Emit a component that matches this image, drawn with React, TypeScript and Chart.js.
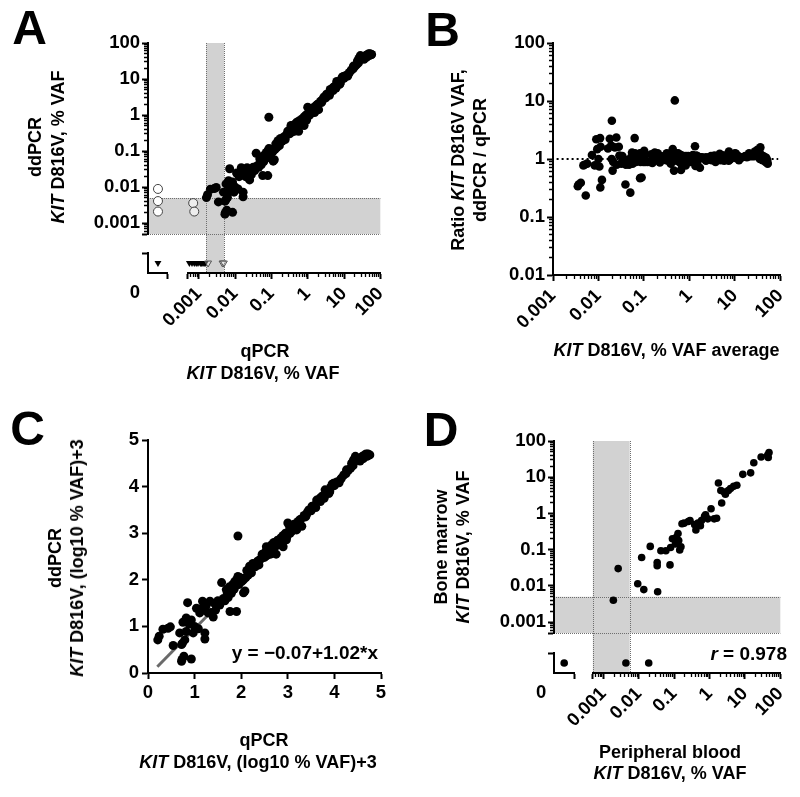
import React, { useEffect, useRef } from 'react';
import { Chart, registerables } from 'chart.js';
Chart.register(...registerables);

const FONT = '"Liberation Sans", Arial, Helvetica, sans-serif';
const TICK_FONT: any = { family: FONT, size: 18.5, weight: 'bold' };
const AXIS_W = 70;
const AXIS_H = 100;
const BAND_FILL = '#d2d2d2';
const BAND_EDGE = '#6f6f6f';

// qPCR / ddPCR KIT D816V pairs, read in panel C units: (log10 % VAF)+3
const qpcrLog3 = [
  0.21, 0.24, 0.32, 0.43, 0.48, 0.54, 0.68, 0.72, 0.74, 0.73, 0.77, 0.72, 0.93, 0.85, 0.79, 0.82, 0.75, 0.82, 0.88, 0.93,
  0.97, 1.0, 1.04, 1.08, 1.11, 1.15, 1.22, 1.22, 1.17, 1.25, 1.29, 1.35, 1.4, 1.33, 1.43, 1.45, 1.5, 1.54, 1.55, 1.61,
  1.58, 1.62, 1.65, 1.68, 1.7, 1.72, 1.75, 1.76, 1.79, 1.8, 1.82, 1.85, 1.86, 1.88, 1.9, 1.9, 1.93, 1.93, 1.95, 1.97,
  2.0, 2.01, 2.05, 2.05, 2.08, 2.1, 2.12, 2.15, 2.18, 2.2, 2.22, 2.25, 2.26, 2.3, 2.35, 2.38, 2.4, 2.42, 2.45, 2.47,
  2.5, 2.52, 2.54, 2.55, 2.58, 2.6, 2.61, 2.63, 2.65, 2.68, 2.69, 2.7, 2.72, 2.75, 2.78, 2.79, 2.8, 2.82, 2.85, 2.88,
  2.9, 2.9, 2.92, 2.95, 2.97, 2.98, 3.0, 3.04, 3.05, 3.08, 3.1, 3.12, 3.15, 3.19, 3.2, 3.22, 3.26, 3.28, 3.3, 3.35,
  3.38, 3.4, 3.42, 3.45, 3.5, 3.52, 3.55, 3.58, 3.6, 3.62, 3.65, 3.69, 3.7, 3.72, 3.75, 3.78, 3.8, 3.82, 3.85, 3.88,
  3.9, 3.92, 3.95, 3.98, 4.0, 4.05, 4.1, 4.12, 4.15, 4.2, 4.25, 4.26, 4.3, 4.35, 4.37, 4.4, 4.41, 4.45, 4.5, 4.55,
  4.55, 4.6, 4.62, 4.65, 4.68, 4.69, 4.7, 4.72, 4.75, 4.76,
];
const ddpcrLog3 = [
  0.71, 0.79, 0.94, 0.96, 0.99, 0.59, 0.86, 0.61, 0.64, 0.29, 0.36, 0.25, 0.3, 1.51, 0.71, 0.89, 1.09, 1.18, 1.05, 1.14,
  0.86, 1.0, 1.39, 0.95, 1.29, 1.38, 0.86, 0.73, 1.54, 1.45, 1.29, 1.3, 1.2, 1.54, 1.49, 1.35, 1.55, 1.46, 1.5, 1.57,
  1.94, 1.6, 1.55, 1.79, 1.72, 1.62, 1.85, 1.32, 1.71, 1.78, 1.9, 1.8, 1.96, 1.87, 1.32, 2.0, 2.07, 2.94, 1.9, 2.05,
  2.02, 1.96, 2.0, 1.72, 1.76, 2.05, 2.2, 2.1, 2.29, 2.25, 2.15, 2.35, 2.32, 2.28, 2.4, 2.32, 2.43, 2.45, 2.55, 2.5,
  2.48, 2.6, 2.71, 2.52, 2.7, 2.62, 2.64, 2.55, 2.75, 2.65, 2.71, 2.8, 2.7, 2.55, 2.85, 2.79, 2.75, 2.8, 2.9, 2.78,
  2.95, 2.71, 2.85, 3.0, 2.86, 2.92, 3.22, 3.11, 3.0, 3.12, 3.05, 3.18, 3.2, 3.07, 3.15, 3.25, 3.29, 3.3, 3.15, 3.38,
  3.35, 3.39, 3.45, 3.5, 3.48, 3.58, 3.57, 3.6, 3.55, 3.71, 3.7, 3.75, 3.68, 3.78, 3.8, 3.75, 3.93, 3.88, 3.92, 3.85,
  3.89, 3.98, 4.05, 4.07, 4.02, 4.1, 4.08, 4.14, 4.18, 4.25, 4.28, 4.36, 4.35, 4.4, 4.5, 4.45, 4.57, 4.65, 4.6, 4.55,
  4.61, 4.65, 4.6, 4.68, 4.7, 4.68, 4.65, 4.7, 4.68, 4.68,
];
// Panel B only shows pairs whose qPCR value is at or above this (% VAF)
const qpcrLodForRatio = 0.005;

// Panel A: samples negative in one method (% VAF)
const aQpcrZeroDd = [0.0089, 0.0041, 0.0021]; // ddPCR value where qPCR = 0 (open circles)
const aLowQ = [0.0007, 0.00075]; // qPCR below LoD (open circles)
const aLowQDd = [0.0036, 0.0021];
const aDdZeroQ = [0.00055, 0.00065, 0.00075, 0.00085, 0.00095, 0.0011, 0.0012, 0.0013, 0.0014, 0.0015]; // ddPCR = 0 (filled ▼)
const aDdZeroQOpen = [0.0018, 0.0045, 0.0049]; // ddPCR = 0 (open ▽)
const aBandX = [0.0016, 0.005];
const aBandY = [0.0005, 0.005];

// Panel C regression
const regIntercept = -0.07;
const regSlope = 1.02;
const regRange = [0.2, 4.75];

// Panel B reference line
const bRefRange = [0.0012, 90];

// Panel D: peripheral blood vs bone marrow (% VAF)
const pbVaf = [
  0.0019, 0.0026, 0.0093, 0.012, 0.0138, 0.021, 0.033, 0.033, 0.034, 0.042, 0.058, 0.076, 0.079, 0.089, 0.108, 0.115,
  0.134, 0.128, 0.143, 0.155, 0.166, 0.19, 0.25, 0.28, 0.38, 0.41, 0.47, 0.55, 0.59, 0.72, 0.77, 0.89, 1.1, 1.35, 1.58,
  1.78, 2.08, 2.2, 2.6, 2.8, 3.4, 3.9, 4.8, 5.9, 8.7, 14.5, 17.8, 28.7, 44, 48, 45.6,
];
const bmVaf = [
  0.004, 0.03, 0.0115, 0.061, 0.0079, 0.123, 0.036, 0.044, 0.0069, 0.093, 0.093, 0.038, 0.115, 0.2, 0.144, 0.22,
  0.178, 0.28, 0.098, 0.12, 0.52, 0.54, 0.6, 0.64, 0.49, 0.35, 0.54, 0.46, 0.64, 0.83, 0.92, 0.71, 1.35, 0.71, 0.74,
  6.9, 4.3, 1.94, 3.9, 3.4, 4.3, 4.9, 5.6, 6.0, 12, 13.2, 25, 36, 41, 48, 35,
];
const dBmZeroPb = [0.0043, 0.019]; // bone marrow = 0
const dBandX = [0.0005, 0.0055];
const dBandY = [0.0005, 0.005];

function fmtLog(v: number) {
  const lg = Math.log10(v);
  if (Math.abs(lg - Math.round(lg)) > 1e-6) return '';
  if (v < 0.00099) return '';
  return String(Number(v.toPrecision(3)));
}

function logTickList(min: number, max: number) {
  const out: any[] = [{ value: min, major: true }];
  for (let e = -4; e <= 2; e++) {
    for (let m = 1; m <= 9; m++) {
      const v = Number((m * Math.pow(10, e)).toPrecision(3));
      if (v > min * 1.001 && v <= max * 1.001) out.push({ value: v, major: m === 1 });
    }
  }
  return out;
}

function logAxis(dir: 'x' | 'y', min: number, max: number, extra: any = {}) {
  const isX = dir === 'x';
  return {
    type: 'logarithmic',
    position: isX ? 'bottom' : 'left',
    ...extra,
    min,
    max,
    border: { display: true, color: '#000', width: 2 },
    grid: {
      display: true,
      drawOnChartArea: false,
      drawTicks: true,
      tickLength: 6,
      tickColor: '#000',
      tickWidth: (c: any) => (c.tick && c.tick.major ? 2 : 1.3),
      tickBorderDash: (c: any) => (c.tick && c.tick.major ? [] : isX ? [3, 20] : [0, 2, 3, 20]),
    },
    ticks: {
      autoSkip: false,
      minRotation: isX ? 45 : 0,
      maxRotation: isX ? 45 : 0,
      padding: isX ? 4 : 2,
      color: '#000',
      font: TICK_FONT,
      callback: (v: any) => fmtLog(Number(v)),
    },
    afterBuildTicks: (s: any) => {
      s.ticks = logTickList(min, max);
    },
    afterFit: (s: any) => {
      if (isX) s.height = AXIS_H;
      else s.width = AXIS_W;
    },
  };
}

function zeroAxis(dir: 'x' | 'y', stackWeight: number, weight: number) {
  const isX = dir === 'x';
  return {
    type: 'linear',
    position: isX ? 'bottom' : 'left',
    stack: 's' + dir,
    stackWeight,
    weight,
    min: -1,
    max: 1,
    border: { display: true, color: '#000', width: 2 },
    grid: {
      display: true,
      drawOnChartArea: false,
      tickLength: 6,
      tickWidth: 2,
      tickColor: (c: any) => (c.tick && c.tick.value === 1 ? '#000' : 'rgba(0,0,0,0)'),
    },
    ticks: {
      autoSkip: false,
      minRotation: 0,
      maxRotation: 0,
      padding: 3,
      labelOffset: isX ? -23 : 0,
      color: '#000',
      font: TICK_FONT,
      callback: (v: any) => (isX && Number(v) === 0 ? '0' : ''),
    },
    afterBuildTicks: (s: any) => {
      s.ticks = isX ? [{ value: 0 }, { value: 1 }] : [{ value: 1 }];
    },
    afterFit: (s: any) => {
      if (isX) s.height = AXIS_H;
      else s.width = AXIS_W;
    },
  };
}

function gapAxis(dir: 'x' | 'y', stackWeight: number, weight: number) {
  const isX = dir === 'x';
  return {
    type: 'linear',
    position: isX ? 'bottom' : 'left',
    stack: 's' + dir,
    stackWeight,
    weight,
    display: true,
    border: { display: false },
    grid: { display: false },
    ticks: { display: false },
    afterFit: (s: any) => {
      if (isX) s.height = AXIS_H;
      else s.width = AXIS_W;
    },
  };
}

function linAxis(dir: 'x' | 'y') {
  const isX = dir === 'x';
  return {
    type: 'linear',
    position: isX ? 'bottom' : 'left',
    min: 0,
    max: 5,
    border: { display: true, color: '#000', width: 2 },
    grid: { display: true, drawOnChartArea: false, tickLength: 6, tickWidth: 2, tickColor: '#000' },
    ticks: { stepSize: 1, padding: 3, minRotation: 0, maxRotation: 0, color: '#000', font: TICK_FONT },
    afterFit: (s: any) => {
      if (isX) s.height = AXIS_H;
      else s.width = AXIS_W;
    },
  };
}

function bandsPlugin(bx: number[], by: number[]) {
  return {
    id: 'bands',
    beforeDraw(chart: any) {
      const { ctx, chartArea: ca, scales } = chart;
      const x0 = scales.x.getPixelForValue(bx[0]);
      const x1 = scales.x.getPixelForValue(bx[1]);
      const y0 = scales.y.getPixelForValue(by[1]);
      const y1 = scales.y.getPixelForValue(by[0]);
      ctx.save();
      ctx.fillStyle = BAND_FILL;
      ctx.fillRect(x0, ca.top, x1 - x0, ca.bottom - ca.top);
      ctx.fillRect(ca.left, y0, ca.right - ca.left, y1 - y0);
      ctx.strokeStyle = BAND_EDGE;
      ctx.lineWidth = 1;
      ctx.setLineDash([1, 1]);
      ctx.beginPath();
      ctx.moveTo(Math.round(x0) + 0.5, ca.top);
      ctx.lineTo(Math.round(x0) + 0.5, ca.bottom);
      ctx.moveTo(Math.round(x1) + 0.5, ca.top);
      ctx.lineTo(Math.round(x1) + 0.5, ca.bottom);
      ctx.moveTo(ca.left, Math.round(y0) + 0.5);
      ctx.lineTo(ca.right, Math.round(y0) + 0.5);
      ctx.moveTo(ca.left, Math.round(y1) + 0.5);
      ctx.lineTo(ca.right, Math.round(y1) + 0.5);
      ctx.stroke();
      ctx.restore();
    },
  };
}

const baseOptions = (padding: any, scales: any) => ({
  responsive: false,
  maintainAspectRatio: false,
  animation: false,
  devicePixelRatio: 1,
  layout: { padding },
  plugins: { legend: { display: false }, tooltip: { enabled: false }, title: { display: false } },
  events: [],
  scales,
});

const dot = (r: number) => ({
  pointRadius: r,
  pointBackgroundColor: '#000',
  pointBorderColor: '#000',
  pointBorderWidth: 0,
  pointStyle: 'circle',
  clip: false,
});

function configA(): any {
  const main = qpcrLog3.map((q, i) => ({ x: Math.pow(10, q - 3), y: Math.pow(10, ddpcrLog3[i] - 3) }));
  return {
    type: 'scatter',
    data: {
      datasets: [
        { data: main, xAxisID: 'x', yAxisID: 'y', ...dot(4.5) },
        {
          data: aQpcrZeroDd.map((v) => ({ x: 0, y: v })),
          xAxisID: 'xz',
          yAxisID: 'y',
          pointRadius: 4.5,
          pointBackgroundColor: '#fff',
          pointBorderColor: '#444',
          pointBorderWidth: 1,
          clip: false,
        },
        {
          data: aLowQ.map((v, i) => ({ x: v, y: aLowQDd[i] })),
          xAxisID: 'x',
          yAxisID: 'y',
          pointRadius: 4.5,
          pointBackgroundColor: 'rgba(255,255,255,0.6)',
          pointBorderColor: '#444',
          pointBorderWidth: 1,
          clip: false,
        },
        {
          data: aDdZeroQOpen.map((v) => ({ x: v, y: 0 })),
          xAxisID: 'x',
          yAxisID: 'yz',
          pointStyle: 'triangle',
          pointRotation: 180,
          pointRadius: 4,
          pointBackgroundColor: 'rgba(255,255,255,0.3)',
          pointBorderColor: '#555',
          pointBorderWidth: 1,
          clip: false,
        },
        {
          data: aDdZeroQ.map((v) => ({ x: v, y: 0 })),
          xAxisID: 'x',
          yAxisID: 'yz',
          pointStyle: 'triangle',
          pointRotation: 180,
          pointRadius: 4,
          pointBackgroundColor: '#000',
          pointBorderColor: '#000',
          pointBorderWidth: 0,
          clip: false,
        },
        {
          data: [{ x: 0, y: 0 }],
          xAxisID: 'xz',
          yAxisID: 'yz',
          pointStyle: 'triangle',
          pointRotation: 180,
          pointRadius: 4,
          pointBackgroundColor: '#000',
          pointBorderWidth: 0,
          clip: false,
        },
      ],
    },
    options: baseOptions(
      { left: 148 - AXIS_W, top: 43, right: 400 - 381, bottom: 400 - 273 - AXIS_H },
      {
        x: logAxis('x', 0.0005, 100, { stack: 'sx', stackWeight: 193, weight: 3 }),
        xgap: gapAxis('x', 20, 2),
        xz: zeroAxis('x', 20, 1),
        y: logAxis('y', 0.0005, 100, { stack: 'sy', stackWeight: 191, weight: 3 }),
        ygap: gapAxis('y', 19, 2),
        yz: zeroAxis('y', 20, 1),
      }
    ),
    plugins: [bandsPlugin(aBandX, aBandY)],
  };
}

function configB(): any {
  const pts: any[] = [];
  qpcrLog3.forEach((q, i) => {
    const qv = Math.pow(10, q - 3);
    const dv = Math.pow(10, ddpcrLog3[i] - 3);
    if (qv >= qpcrLodForRatio) pts.push({ x: (qv + dv) / 2, y: dv / qv });
  });
  return {
    type: 'scatter',
    data: {
      datasets: [
        { data: pts, xAxisID: 'x', yAxisID: 'y', ...dot(4.3) },
        {
          type: 'line',
          data: bRefRange.map((x) => ({ x, y: 1 })),
          borderColor: '#000',
          borderWidth: 2,
          borderDash: [2, 3],
          pointRadius: 0,
          fill: false,
          clip: false,
        },
      ],
    },
    options: baseOptions(
      { left: 553 - 400 - AXIS_W, top: 43, right: 800 - 786, bottom: 400 - 275 - AXIS_H },
      { x: logAxis('x', 0.001, 100), y: logAxis('y', 0.01, 100) }
    ),
  };
}

function configC(): any {
  const pts = qpcrLog3.map((q, i) => ({ x: q, y: ddpcrLog3[i] }));
  return {
    type: 'scatter',
    data: {
      datasets: [
        { data: pts, ...dot(4.5) },
        {
          type: 'line',
          data: regRange.map((x) => ({ x, y: regIntercept + regSlope * x })),
          borderColor: '#6a6a6a',
          borderWidth: 3,
          pointRadius: 0,
          fill: false,
          clip: false,
        },
      ],
    },
    options: baseOptions(
      { left: 148 - AXIS_W, top: 40, right: 400 - 381, bottom: 397 - 273 - AXIS_H },
      { x: linAxis('x'), y: linAxis('y') }
    ),
  };
}

function configD(): any {
  const pts = pbVaf.map((p, i) => ({ x: p, y: bmVaf[i] }));
  return {
    type: 'scatter',
    data: {
      datasets: [
        { data: pts, xAxisID: 'x', yAxisID: 'y', ...dot(3.8) },
        { data: dBmZeroPb.map((v) => ({ x: v, y: 0 })), xAxisID: 'x', yAxisID: 'yz', ...dot(3.8) },
        { data: [{ x: 0, y: 0 }], xAxisID: 'xz', yAxisID: 'yz', ...dot(3.8) },
      ],
    },
    options: baseOptions(
      { left: 554 - 400 - AXIS_W, top: 41, right: 800 - 787, bottom: 397 - 273 - AXIS_H },
      {
        x: logAxis('x', 0.0005, 100, { stack: 'sx', stackWeight: 193, weight: 3 }),
        xgap: gapAxis('x', 19, 2),
        xz: zeroAxis('x', 21, 1),
        y: logAxis('y', 0.0005, 100, { stack: 'sy', stackWeight: 192, weight: 3 }),
        ygap: gapAxis('y', 20, 2),
        yz: zeroAxis('y', 20, 1),
      }
    ),
    plugins: [bandsPlugin(dBandX, dBandY)],
  };
}

function Txt(props: { x: number; y: number; rot?: boolean; size?: number; align?: 'center' | 'right'; children: any }) {
  const { x, y, rot, size = 18, align = 'center', children } = props;
  const tx = align === 'right' ? '-100%' : '-50%';
  return (
    <div
      style={{
        position: 'absolute',
        left: x,
        top: y,
        transform: `translate(${tx}, -50%)` + (rot ? ' rotate(-90deg)' : ''),
        fontFamily: FONT,
        fontWeight: 'bold',
        fontSize: size,
        lineHeight: 1,
        whiteSpace: 'nowrap',
        color: '#000',
      }}
    >
      {children}
    </div>
  );
}

const KIT = <i>KIT</i>;

export default function App() {
  const rA = useRef<HTMLCanvasElement>(null);
  const rB = useRef<HTMLCanvasElement>(null);
  const rC = useRef<HTMLCanvasElement>(null);
  const rD = useRef<HTMLCanvasElement>(null);

  useEffect(() => {
    const charts = [
      new Chart(rA.current as any, configA()),
      new Chart(rB.current as any, configB()),
      new Chart(rC.current as any, configC()),
      new Chart(rD.current as any, configD()),
    ];
    return () => charts.forEach((c) => c.destroy());
  }, []);

  const cv = (left: number, top: number, h: number): any => ({
    position: 'absolute',
    left,
    top,
    width: 400,
    height: h,
  });

  return (
    <div style={{ position: 'absolute', left: 0, top: 0, width: 800, height: 797, background: '#fff', overflow: 'hidden' }}>
      <canvas ref={rA} width={400} height={400} style={cv(0, 0, 400)} />
      <canvas ref={rB} width={400} height={400} style={cv(400, 0, 400)} />
      <canvas ref={rC} width={400} height={397} style={cv(0, 400, 397)} />
      <canvas ref={rD} width={400} height={397} style={cv(400, 400, 397)} />

      <Txt x={29.5} y={28} size={48}>A</Txt>
      <Txt x={442.5} y={30} size={48}>B</Txt>
      <Txt x={27.5} y={429} size={48}>C</Txt>
      <Txt x={441} y={430} size={48}>D</Txt>

      {/* Panel A titles */}
      <Txt x={34.5} y={147} rot>ddPCR</Txt>
      <Txt x={57.5} y={147} rot>{KIT} D816V, % VAF</Txt>
      <Txt x={265} y={351}>qPCR</Txt>
      <Txt x={263} y={373}>{KIT} D816V, % VAF</Txt>

      {/* Panel B titles */}
      <Txt x={457.5} y={160} rot>Ratio {KIT} D816V VAF,</Txt>
      <Txt x={479.5} y={160} rot>ddPCR / qPCR</Txt>
      <Txt x={666.5} y={350}>{KIT} D816V, % VAF average</Txt>

      {/* Panel C titles */}
      <Txt x={54.5} y={558} rot>ddPCR</Txt>
      <Txt x={77} y={558} rot>{KIT} D816V, (log10 % VAF)+3</Txt>
      <Txt x={264} y={740}>qPCR</Txt>
      <Txt x={258} y={762}>{KIT} D816V, (log10 % VAF)+3</Txt>
      <Txt x={378} y={652} align="right" size={19}>y = −0.07+1.02*x</Txt>

      {/* Panel D titles */}
      <Txt x={440.5} y={547} rot>Bone marrow</Txt>
      <Txt x={462.5} y={547} rot>{KIT} D816V, % VAF</Txt>
      <Txt x={670} y={752}>Peripheral blood</Txt>
      <Txt x={670} y={773}>{KIT} D816V, % VAF</Txt>
      <Txt x={787} y={653} align="right" size={19}>
        <i>r</i> = 0.978
      </Txt>
    </div>
  );
}
